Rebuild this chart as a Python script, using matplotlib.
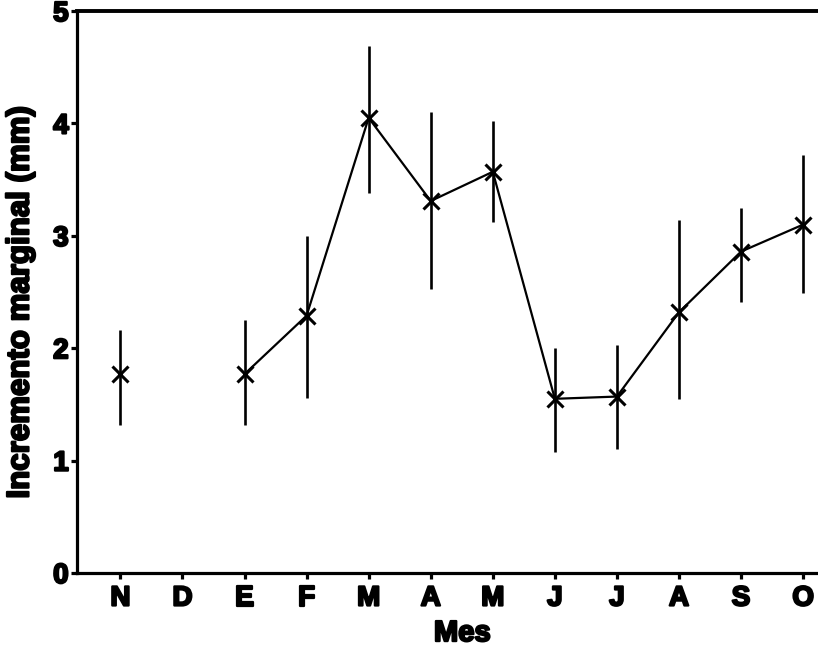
import numpy as np
import matplotlib
matplotlib.use("Agg")
import matplotlib.pyplot as plt
import matplotlib.patheffects as pe

months = ["N", "D", "E", "F", "M", "A", "M", "J", "J", "A", "S", "O"]
mean_vals = [1.77, np.nan, 1.77, 2.29, 4.05, 3.31, 3.57, 1.55, 1.57, 2.32, 2.86, 3.10]
upper_vals = [2.16, np.nan, 2.25, 3.00, 4.69, 4.10, 4.02, 2.00, 2.03, 3.14, 3.25, 3.72]
lower_vals = [1.32, np.nan, 1.32, 1.56, 3.38, 2.53, 3.12, 1.08, 1.10, 1.55, 2.41, 2.49]
y_ticks = [0, 1, 2, 3, 4, 5]

plt.rcParams['font.family'] = ['Liberation Sans', 'DejaVu Sans']
plt.rcParams['font.weight'] = 'bold'

fig = plt.figure(figsize=(8.18, 6.51), dpi=100)
ax = fig.add_axes([0.0941, 0.1198, 0.9059, 0.8632])

x = np.arange(len(months))
mean = np.array(mean_vals, dtype=float)
yerr = np.vstack([mean - np.array(lower_vals), np.array(upper_vals) - mean])

ax.errorbar(x, mean, yerr=yerr, fmt='none', ecolor='black', elinewidth=1.9, capsize=0)
ax.plot(x, mean, color='black', linewidth=1.6, marker='x', markersize=12,
        markeredgewidth=2.2)

ax.set_xlim(-0.7, 11.24)
ax.set_ylim(0, 5)
ax.set_xticks(x)
ax.set_xticklabels(months)
ax.set_yticks(y_ticks)

ax.spines['right'].set_visible(False)
for s in ['left', 'bottom']:
    ax.spines[s].set_linewidth(2.3)
ax.spines['top'].set_linewidth(2.8)

ax.tick_params(axis='both', labelsize=20, width=2.3, length=4, color='black')
ax.tick_params(axis='x', pad=5)
ax.tick_params(axis='y', pad=2)
heavy = [pe.withStroke(linewidth=1.6, foreground='black')]
for lab in ax.get_xticklabels() + ax.get_yticklabels():
    lab.set_fontweight('bold')
    lab.set_path_effects(heavy)

ax.set_xlabel('Mes', fontsize=21, fontweight='bold', path_effects=heavy)
ax.set_ylabel('Incremento marginal (mm)', fontsize=22.5, fontweight='bold', path_effects=heavy)
ax.xaxis.set_label_coords(0.52, -0.082)
ax.yaxis.set_label_coords(-0.056, 0.482)

fig.savefig('out.png', dpi=100)
